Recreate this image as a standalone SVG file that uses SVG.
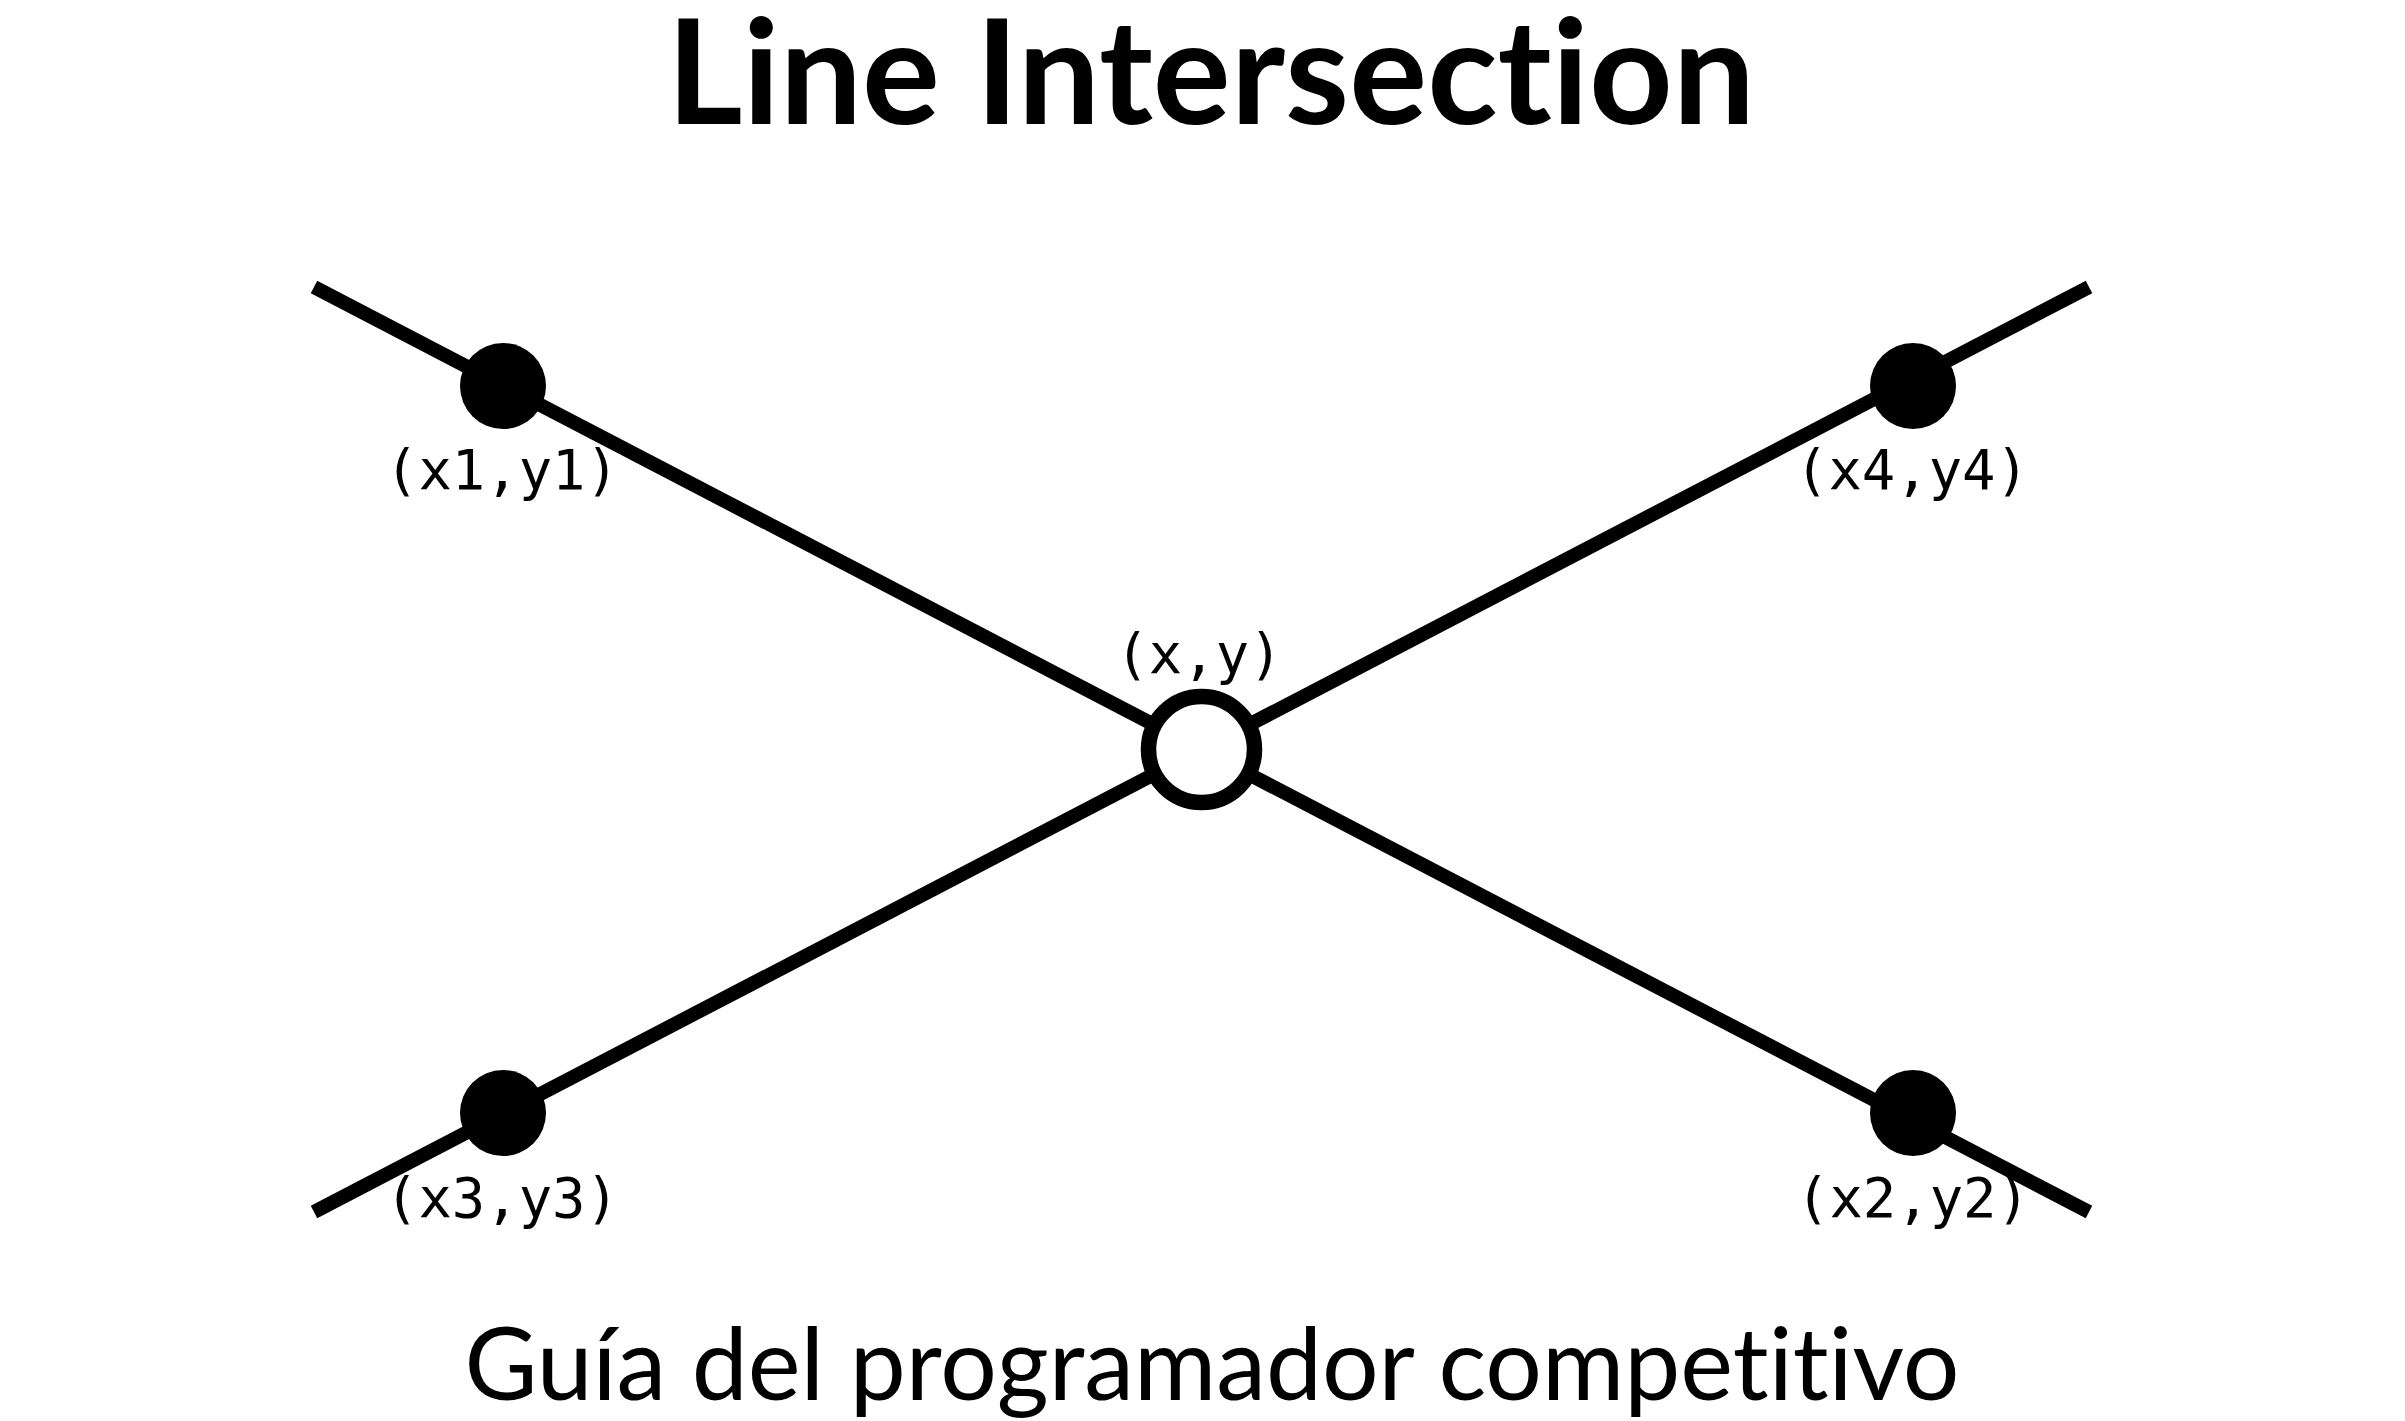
<svg xmlns="http://www.w3.org/2000/svg" width="2405" height="1421" viewBox="0 0 2405 1421">
<style>
text{font-variant-ligatures:none;font-feature-settings:"liga" 0,"clig" 0,"dlig" 0}
.title{font-family:Lato,"Liberation Sans",sans-serif;font-weight:bold;font-size:146px;fill:#000}
.sub{font-family:Lato,"Liberation Sans",sans-serif;font-size:100px;fill:#000}
.lbl{font-family:"DejaVu Sans Mono","Liberation Mono",monospace;font-size:55.5px;fill:#000}
.ln{stroke:#000;stroke-width:14;fill:none;stroke-linecap:butt}
.pt{fill:#000}
</style>
<rect width="2405" height="1421" fill="#fff"/>
<text class="title" x="1211" y="124" text-anchor="middle">Line Intersection</text>
<g id="connectors">
<line class="ln" x1="314" y1="287" x2="2089" y2="1212"/>
<line class="ln" x1="314" y1="1212" x2="2089" y2="287"/>
</g>
<g id="p1"><circle class="pt" cx="503" cy="386" r="43"/><text class="lbl" x="502" y="489" text-anchor="middle">(x1,y1)</text></g>
<g id="p4"><circle class="pt" cx="1913" cy="386" r="43"/><text class="lbl" x="1912" y="489" text-anchor="middle">(x4,y4)</text></g>
<g id="p3"><circle class="pt" cx="503" cy="1113" r="43"/><text class="lbl" x="502" y="1217" text-anchor="middle">(x3,y3)</text></g>
<g id="p2"><circle class="pt" cx="1913" cy="1113" r="43"/><text class="lbl" x="1913" y="1217" text-anchor="middle">(x2,y2)</text></g>
<g id="center"><circle cx="1201.5" cy="749.5" r="53" fill="#fff" stroke="#000" stroke-width="15.5"/><text class="lbl" x="1199" y="673" text-anchor="middle">(x,y)</text></g>
<text class="sub" x="1212" y="1400" text-anchor="middle">Guía del programador competitivo</text>
</svg>
